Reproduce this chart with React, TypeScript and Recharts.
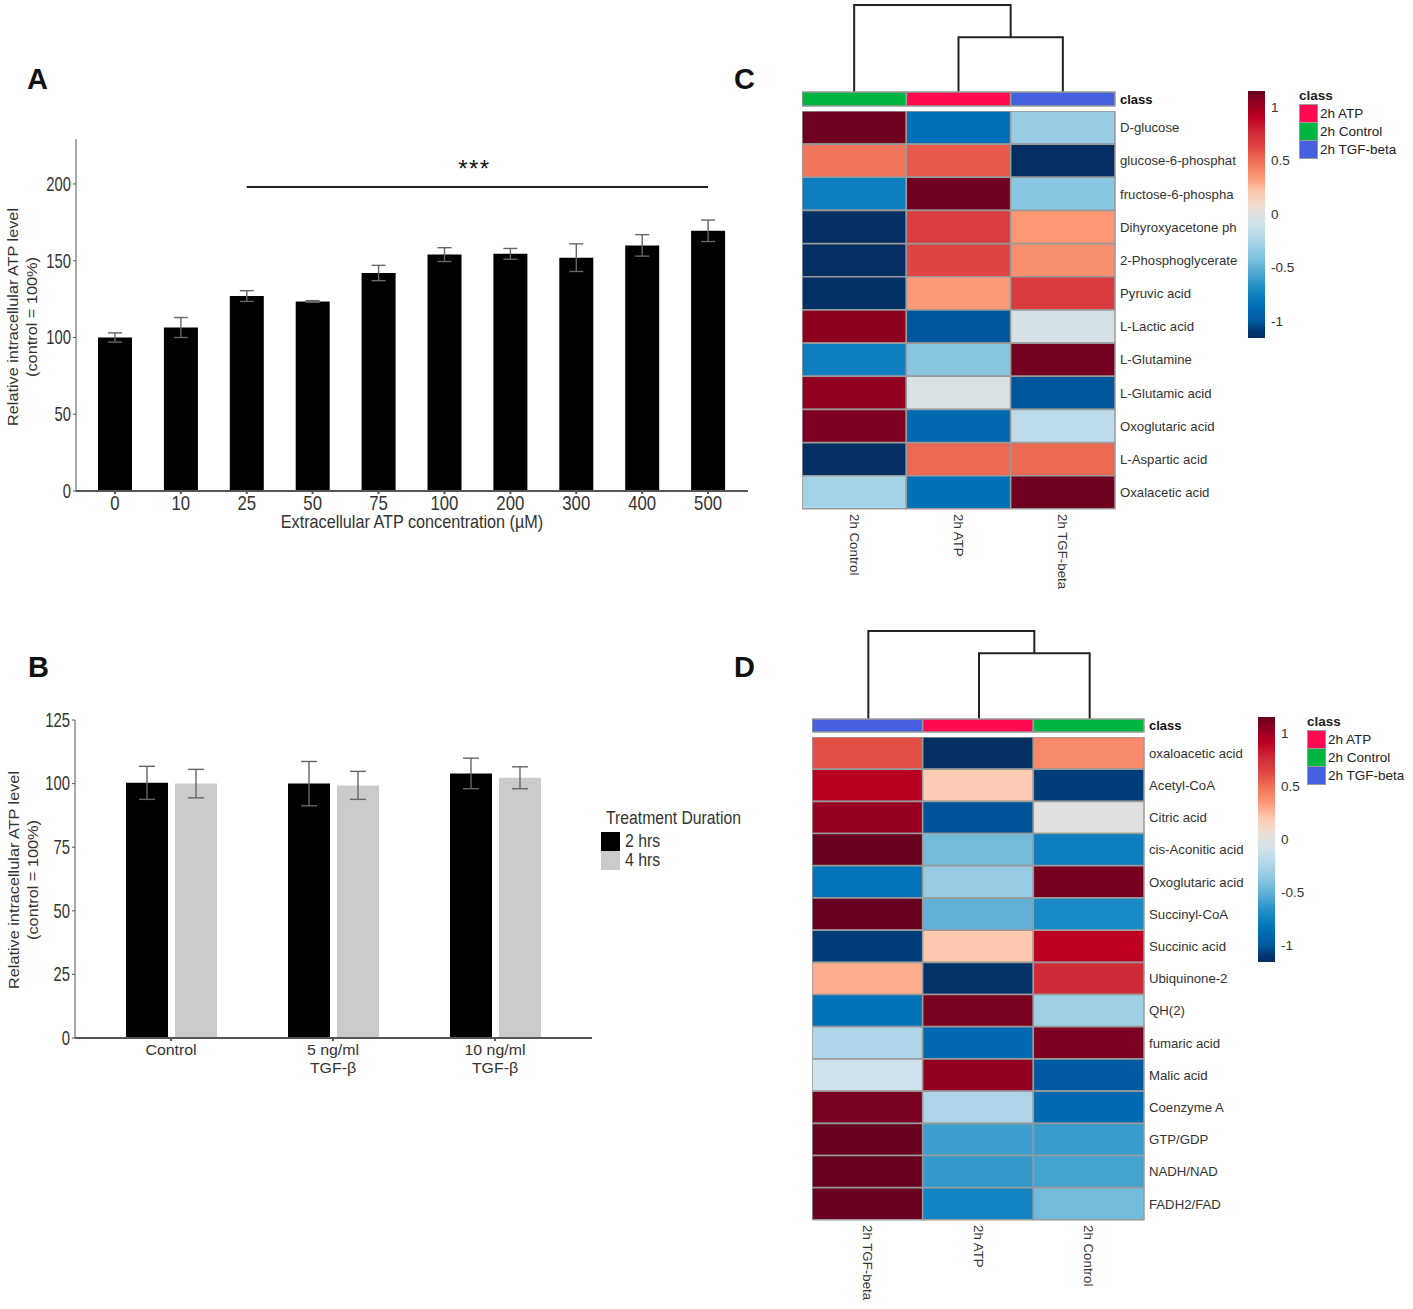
import React from 'react'
import {
  Bar,
  BarChart,
  Cell,
  ErrorBar,
  Legend,
  Line,
  LineChart,
  ReferenceLine,
  XAxis,
  YAxis,
} from 'recharts'

// panel A
const doseLabels = ['0', '10', '25', '50', '75', '100', '200', '300', '400', '500']
const doseValues = [100, 106.5, 127, 123.5, 142, 154, 154.5, 152, 160, 169.5]
const doseErrors = [3, 6.5, 3.5, 0.5, 5, 4.5, 3.5, 9, 7, 7]

// panel B
const treatments = ['Control', '5 ng/ml\nTGF-β', '10 ng/ml\nTGF-β']
const twoHourValues = [100.3, 100, 104]
const twoHourErrors = [6.5, 8.7, 6]
const fourHourValues = [100, 99.3, 102.3]
const fourHourErrors = [5.6, 5.5, 4.3]

// panel C
const glycolysisRows = [
  'D-glucose', 'glucose-6-phosphat', 'fructose-6-phospha', 'Dihyroxyacetone ph', '2-Phosphoglycerate', 'Pyruvic acid',
  'L-Lactic acid', 'L-Glutamine', 'L-Glutamic acid', 'Oxoglutaric acid', 'L-Aspartic acid', 'Oxalacetic acid',
]
const glycolysisColumns = ['2h Control', '2h ATP', '2h TGF-beta']
const glycolysisControl = [1.13, 0.47, -0.77, -1.15, -1.15, -1.14, 1.05, -0.77, 1.04, 1.09, -1.15, -0.28]
const glycolysisAtp = [-0.85, 0.57, 1.13, 0.67, 0.63, 0.34, -1.01, -0.38, -0.04, -0.9, 0.52, -0.85]
const glycolysisTgf = [-0.33, -1.15, -0.38, 0.35, 0.38, 0.69, -0.06, 1.12, -1.01, -0.18, 0.52, 1.13]
const glycolysisTree = [
  [{ pos: 1.5, h: 0 }, { pos: 1.5, h: 0.63 }, { pos: 2.5, h: 0.63 }, { pos: 2.5, h: 0 }],
  [{ pos: 0.5, h: 0 }, { pos: 0.5, h: 1 }, { pos: 2, h: 1 }, { pos: 2, h: 0.63 }],
]

// panel D
const tcaRows = [
  'oxaloacetic acid', 'Acetyl-CoA', 'Citric acid', 'cis-Aconitic acid', 'Oxoglutaric acid', 'Succinyl-CoA', 'Succinic acid',
  'Ubiquinone-2', 'QH(2)', 'fumaric acid', 'Malic acid', 'Coenzyme A', 'GTP/GDP', 'NADH/NAD', 'FADH2/FAD',
]
const tcaColumns = ['2h TGF-beta', '2h ATP', '2h Control']
const tcaTgf = [0.6, 0.92, 1.02, 1.15, -0.83, 1.15, -1.08, 0.28, -0.84, -0.24, -0.1, 1.1, 1.15, 1.15, 1.15]
const tcaAtp = [-1.15, 0.18, -1.02, -0.45, -0.33, -0.5, 0.2, -1.13, 1.1, -0.9, 1.04, -0.25, -0.6, -0.63, -0.74]
const tcaControl = [0.4, -1.08, 0, -0.77, 1.11, -0.7, 0.9, 0.77, -0.3, 1.09, -1, -0.89, -0.61, -0.58, -0.45]
const tcaTree = [
  [{ pos: 1.5, h: 0 }, { pos: 1.5, h: 0.747 }, { pos: 2.5, h: 0.747 }, { pos: 2.5, h: 0 }],
  [{ pos: 0.5, h: 0 }, { pos: 0.5, h: 1 }, { pos: 2, h: 1 }, { pos: 2, h: 0.747 }],
]

const colorbarTicks = [-1, -0.5, 0, 0.5, 1]
const scaleLow = -1.16
const scaleHigh = 1.15

const CLASS_COLORS: Record<string, string> = {
  '2h ATP': '#ff0a50',
  '2h Control': '#00b640',
  '2h TGF-beta': '#4560dc',
}

// sampled from the colour bar
const SCALE_STOPS: [number, string][] = [
  [-1.16, '#052d60'],
  [-1.1, '#00366f'],
  [-1, '#005aa0'],
  [-0.85, '#0070b8'],
  [-0.7, '#1a8bc4'],
  [-0.55, '#4fa8d2'],
  [-0.4, '#84c4e0'],
  [-0.25, '#acd5e8'],
  [-0.1, '#d0e2ec'],
  [0, '#e0e0e0'],
  [0.08, '#f2dcd0'],
  [0.2, '#fec9ae'],
  [0.35, '#fc9674'],
  [0.5, '#ef6e55'],
  [0.65, '#dd4040'],
  [0.75, '#d0303a'],
  [0.9, '#bf0024'],
  [1.05, '#8e0020'],
  [1.15, '#67001f'],
]

const FONT = '"Liberation Sans", Arial, sans-serif'
const AXIS_COLOR = '#555'
const TEXT_COLOR = '#333'
const GRID_STROKE = '#9a9a9a'

function hexToRgb(hex: string) {
  return [1, 3, 5].map((i) => parseInt(hex.slice(i, i + 2), 16))
}

function scaleColor(value: number) {
  for (let i = 1; i < SCALE_STOPS.length; i++) {
    const [v0, c0] = SCALE_STOPS[i - 1]
    const [v1, c1] = SCALE_STOPS[i]
    if (value <= v1) {
      const t = Math.max(0, (value - v0) / (v1 - v0))
      const a = hexToRgb(c0)
      const b = hexToRgb(c1)
      return `rgb(${a.map((x, k) => Math.round(x + (b[k] - x) * t)).join(',')})`
    }
  }
  return SCALE_STOPS[SCALE_STOPS.length - 1][1]
}

// the figure's bar panels use a tall, squeezed face
const NarrowText = ({ x, y, squeeze, size = 18, anchor = 'middle', children }: any) => (
  <text
    transform={`translate(${x},${y}) scale(${squeeze},1)`}
    fill={TEXT_COLOR}
    fontSize={size}
    fontFamily={FONT}
    textAnchor={anchor}
    dominantBaseline="central"
  >
    {children}
  </text>
)

const AtpAxisTitle = ({ x1, x2, cy }: { x1: number; x2: number; cy: number }) => (
  <g fill={TEXT_COLOR} fontSize={15.5} fontFamily={FONT} textAnchor="middle">
    <text transform={`translate(${x1},${cy}) rotate(-90)`} dominantBaseline="central" textLength={218} lengthAdjust="spacingAndGlyphs">
      Relative intracellular ATP level
    </text>
    <text transform={`translate(${x2},${cy}) rotate(-90)`} dominantBaseline="central" textLength={120} lengthAdjust="spacingAndGlyphs">
      (control = 100%)
    </text>
  </g>
)

const DoseTick = ({ x, y, payload }: any) => (
  <NarrowText x={x} y={y + 7} squeeze={0.84} size={20}>{payload.value}</NarrowText>
)

const ValueTick = ({ x, y, payload }: any) => (
  <NarrowText x={x} y={y} squeeze={0.74} size={20} anchor="end">{payload.value}</NarrowText>
)

const TreatmentTick = ({ x, y, payload }: any) => (
  <g>
    {String(payload.value).split('\n').map((line, i) => (
      <NarrowText key={i} x={x} y={y + 7 + i * 17.5} squeeze={1.06} size={15}>{line}</NarrowText>
    ))}
  </g>
)

const DoseChart = () => {
  const data = doseLabels.map((dose, i) => ({ dose, atp: doseValues[i], err: doseErrors[i] }))
  return (
    <BarChart width={760} height={410} data={data} margin={{ top: 9, right: 12, bottom: 9, left: 0 }} barSize={34}>
      <XAxis
        dataKey="dose"
        padding={{ left: 6, right: 7 }}
        interval={0}
        stroke={AXIS_COLOR}
        strokeWidth={2}
        tickSize={3}
        height={40}
        tick={<DoseTick />}
        label={{ content: () => <NarrowText x={412} y={392} squeeze={0.9}>Extracellular ATP concentration (µM)</NarrowText> }}
      />
      <YAxis
        width={76}
        domain={[0, 229.3]}
        ticks={[0, 50, 100, 150, 200]}
        stroke={AXIS_COLOR}
        tickSize={3}
        tick={<ValueTick />}
        label={{ content: () => <AtpAxisTitle x1={12} x2={31} cy={187} /> }}
      />
      <Bar dataKey="atp" fill="#000" isAnimationActive={false}>
        <ErrorBar dataKey="err" width={7} stroke="#666" strokeWidth={1.4} isAnimationActive={false} />
      </Bar>
      <ReferenceLine
        segment={[{ x: '25', y: 198 }, { x: '500', y: 198 }]}
        stroke="#222"
        strokeWidth={2}
        label={{ value: '***', position: 'top', offset: 10, fill: '#111', fontSize: 24, letterSpacing: 1.5, dx: -3 }}
      />
    </BarChart>
  )
}

const DurationLegend = ({ payload }: any) => (
  <div style={{ fontFamily: FONT, color: TEXT_COLOR, fontSize: 18 }}>
    <div style={{ marginLeft: 5, height: 24, lineHeight: '20px', whiteSpace: 'nowrap', transform: 'scaleX(0.874)', transformOrigin: 'left' }}>
      Treatment Duration
    </div>
    {(payload || []).map((entry: any) => (
      <div key={entry.value} style={{ display: 'flex', alignItems: 'center', height: 19 }}>
        <div style={{ width: 19, height: 19, background: entry.color, marginRight: 5 }} />
        <span style={{ transform: 'scaleX(0.88)', transformOrigin: 'left' }}>{entry.value}</span>
      </div>
    ))}
  </div>
)

const TreatmentChart = () => {
  const data = treatments.map((name, i) => ({
    name,
    two: twoHourValues[i],
    twoErr: twoHourErrors[i],
    four: fourHourValues[i],
    fourErr: fourHourErrors[i],
  }))
  return (
    <BarChart
      width={760}
      height={400}
      data={data}
      margin={{ top: 20, right: 168, bottom: 12, left: 0 }}
      barSize={42}
      barGap={7}
    >
      <XAxis
        dataKey="name"
        padding={{ left: 15, right: 16 }}
        interval={0}
        stroke={AXIS_COLOR}
        strokeWidth={2}
        tickSize={3}
        height={50}
        tick={<TreatmentTick />}
      />
      <YAxis
        width={75}
        domain={[0, 125]}
        ticks={[0, 25, 50, 75, 100, 125]}
        stroke={AXIS_COLOR}
        tickSize={3}
        tick={<ValueTick />}
        label={{ content: () => <AtpAxisTitle x1={13} x2={32} cy={180} /> }}
      />
      <Legend
        layout="vertical"
        align="center"
        verticalAlign="middle"
        content={DurationLegend}
        wrapperStyle={{ left: 601, top: 108, width: 150 }}
      />
      <Bar dataKey="two" name="2 hrs" fill="#000" isAnimationActive={false}>
        <ErrorBar dataKey="twoErr" width={8} stroke="#666" strokeWidth={1.4} isAnimationActive={false} />
      </Bar>
      <Bar dataKey="four" name="4 hrs" fill="#cbcbcb" isAnimationActive={false}>
        <ErrorBar dataKey="fourErr" width={8} stroke="#666" strokeWidth={1.4} isAnimationActive={false} />
      </Bar>
    </BarChart>
  )
}

const Dendrogram = ({ links, width, height }: { links: { pos: number; h: number }[][]; width: number; height: number }) => (
  <LineChart width={width} height={height} margin={{ top: 1, right: 0, bottom: 0, left: 0 }}>
    <XAxis type="number" dataKey="pos" domain={[0, 3]} hide />
    <YAxis type="number" domain={[0, 1]} hide />
    {links.map((link, i) => (
      <Line key={i} data={link} dataKey="h" stroke="#222" strokeWidth={2} dot={false} isAnimationActive={false} legendType="none" />
    ))}
  </LineChart>
)

const ClassLegend = ({ payload }: any) => {
  const items = [...(payload || [])].sort((a: any, b: any) => String(a.value).localeCompare(String(b.value)))
  return (
    <div style={{ fontFamily: FONT, color: '#222', fontSize: 13.5 }}>
      <div style={{ fontWeight: 700, height: 15, lineHeight: '14px' }}>class</div>
      <div style={{ display: 'inline-block', position: 'relative' }}>
        {items.map((entry: any) => (
          <div key={entry.value} style={{ display: 'flex', alignItems: 'center', height: 18 }}>
            <div style={{ width: 17, height: 17, background: entry.color, border: `1px solid ${GRID_STROKE}`, marginRight: 2 }} />
            <span style={{ whiteSpace: 'nowrap' }}>{entry.value}</span>
          </div>
        ))}
      </div>
    </div>
  )
}

const ClassStrip = ({
  columns,
  chartWidth,
  plotWidth,
  stripHeight,
  legendLeft,
  legendTop,
}: {
  columns: string[]
  chartWidth: number
  plotWidth: number
  stripHeight: number
  legendLeft: number
  legendTop: number
}) => {
  const data = [{ name: 'class', c0: 1, c1: 1, c2: 1 }]
  return (
    <BarChart
      width={chartWidth}
      height={90}
      data={data}
      layout="vertical"
      margin={{ top: 4, right: 0, bottom: 86 - stripHeight, left: 0 }}
      barCategoryGap={0}
    >
      <XAxis type="number" domain={[0, 3]} hide />
      <YAxis
        type="category"
        dataKey="name"
        orientation="right"
        width={chartWidth - plotWidth}
        axisLine={false}
        tickLine={false}
        tickSize={0}
        tickMargin={5}
        tick={{ fill: '#111', fontSize: 13, fontWeight: 700 }}
      />
      <Legend
        layout="vertical"
        align="center"
        verticalAlign="middle"
        content={ClassLegend}
        wrapperStyle={{ left: legendLeft, top: legendTop, width: 120 }}
      />
      {columns.map((col, i) => (
        <Bar
          key={col}
          dataKey={`c${i}`}
          name={col}
          stackId="strip"
          fill={CLASS_COLORS[col]}
          stroke={GRID_STROKE}
          strokeWidth={1.5}
          isAnimationActive={false}
        />
      ))}
    </BarChart>
  )
}

const ColumnTick = ({ x, y, payload, columns }: any) => (
  <text
    transform={`translate(${x},${y}) rotate(90)`}
    fill={TEXT_COLOR}
    fontSize={13.3}
    dominantBaseline="central"
    textAnchor="start"
  >
    {columns[Math.floor(payload.value)]}
  </text>
)

const HeatMap = ({
  rows,
  columns,
  matrix,
  plotWidth,
  plotHeight,
}: {
  rows: string[]
  columns: string[]
  matrix: number[][]
  plotWidth: number
  plotHeight: number
}) => {
  const data = rows.map((name) => ({ name, c0: 1, c1: 1, c2: 1 }))
  return (
    <BarChart
      width={plotWidth + 140}
      height={plotHeight + 95}
      data={data}
      layout="vertical"
      margin={{ top: 0, right: 0, bottom: 0, left: 0 }}
      barCategoryGap={0}
    >
      <XAxis
        type="number"
        domain={[0, 3]}
        ticks={[0.5, 1.5, 2.5]}
        interval={0}
        height={95}
        axisLine={false}
        tickLine={false}
        tickSize={0}
        tickMargin={5}
        tick={<ColumnTick columns={columns} />}
      />
      <YAxis
        type="category"
        dataKey="name"
        orientation="right"
        width={140}
        interval={0}
        axisLine={false}
        tickLine={false}
        tickSize={0}
        tickMargin={5}
        tick={{ fill: TEXT_COLOR, fontSize: 13.2 }}
      />
      {columns.map((col, c) => (
        <Bar
          key={col}
          dataKey={`c${c}`}
          name={col}
          stackId="heat"
          stroke={GRID_STROKE}
          strokeWidth={1.5}
          isAnimationActive={false}
        >
          {rows.map((row, r) => (
            <Cell key={row} fill={scaleColor(matrix[c][r])} />
          ))}
        </Bar>
      ))}
    </BarChart>
  )
}

const ColorBar = ({ id, height }: { id: string; height: number }) => (
  <BarChart
    width={62}
    height={height}
    data={[{ name: 'scale', range: [scaleLow, scaleHigh] }]}
    margin={{ top: 0, right: 0, bottom: 0, left: 0 }}
    barCategoryGap={0}
  >
    <defs>
      <linearGradient id={id} x1="0" y1="1" x2="0" y2="0">
        {SCALE_STOPS.map(([value, color]) => (
          <stop key={value} offset={(value - scaleLow) / (scaleHigh - scaleLow)} stopColor={color} />
        ))}
      </linearGradient>
    </defs>
    <XAxis dataKey="name" hide />
    <YAxis
      type="number"
      orientation="right"
      width={45}
      domain={[scaleLow, scaleHigh]}
      ticks={colorbarTicks}
      interval={0}
      axisLine={false}
      tickLine={false}
      tickSize={0}
      tickMargin={6}
      tick={{ fill: TEXT_COLOR, fontSize: 13.5 }}
    />
    <Bar dataKey="range" fill={`url(#${id})`} isAnimationActive={false} />
  </BarChart>
)

const Place = ({ left, top, children }: { left: number; top: number; children: React.ReactNode }) => (
  <div style={{ position: 'absolute', left, top }}>{children}</div>
)

const PanelLetter = ({ left, top, children }: { left: number; top: number; children: string }) => (
  <div style={{ position: 'absolute', left, top, fontSize: 29, fontWeight: 700, color: '#111', lineHeight: '30px' }}>{children}</div>
)

export default function App() {
  return (
    <div style={{ position: 'absolute', left: 0, top: 0, width: 1413, height: 1309, background: '#fff', fontFamily: FONT }}>
      <PanelLetter left={27} top={64}>A</PanelLetter>
      <PanelLetter left={28} top={652}>B</PanelLetter>
      <PanelLetter left={734} top={64}>C</PanelLetter>
      <PanelLetter left={734} top={652}>D</PanelLetter>

      <Place left={0} top={130}><DoseChart /></Place>
      <Place left={0} top={700}><TreatmentChart /></Place>

      <Place left={802} top={4}><Dendrogram links={glycolysisTree} width={313} height={88} /></Place>
      <Place left={802} top={88}>
        <ClassStrip columns={glycolysisColumns} chartWidth={611} plotWidth={313} stripHeight={14} legendLeft={497} legendTop={1} />
      </Place>
      <Place left={802} top={111}>
        <HeatMap
          rows={glycolysisRows}
          columns={glycolysisColumns}
          matrix={[glycolysisControl, glycolysisAtp, glycolysisTgf]}
          plotWidth={313}
          plotHeight={398}
        />
      </Place>
      <Place left={1248} top={91}><ColorBar id="scale-c" height={247} /></Place>

      <Place left={813} top={630}><Dendrogram links={tcaTree} width={332} height={89} /></Place>
      <Place left={812} top={715}>
        <ClassStrip columns={tcaColumns} chartWidth={601} plotWidth={332} stripHeight={13} legendLeft={495} legendTop={0} />
      </Place>
      <Place left={812} top={737}>
        <HeatMap
          rows={tcaRows}
          columns={tcaColumns}
          matrix={[tcaTgf, tcaAtp, tcaControl]}
          plotWidth={332}
          plotHeight={483}
        />
      </Place>
      <Place left={1258} top={717}><ColorBar id="scale-d" height={245} /></Place>
    </div>
  )
}
